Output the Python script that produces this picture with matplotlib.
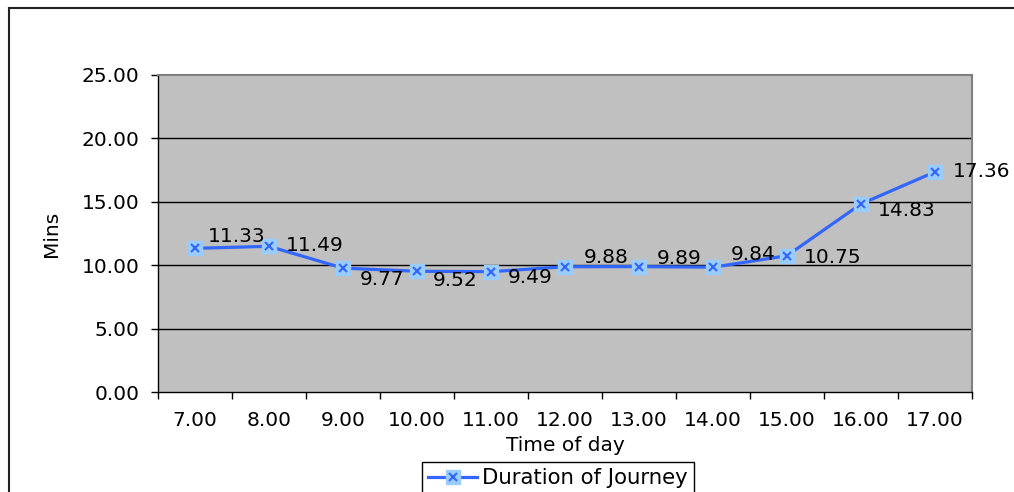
import matplotlib
matplotlib.use("Agg")
import matplotlib.pyplot as plt
from matplotlib.lines import Line2D
import numpy as np

# ---- data ----
times = ['7.00', '8.00', '9.00', '10.00', '11.00', '12.00', '13.00',
         '14.00', '15.00', '16.00', '17.00']
durations = [11.33, 11.49, 9.77, 9.52, 9.49, 9.88, 9.89, 9.84, 10.75, 14.83, 17.36]
y_ticks = [0, 5, 10, 15, 20, 25]
series_name = 'Duration of Journey'
x_title = 'Time of day'
y_title = 'Mins'

# label offsets (pixels, x right / y up) - styling only
label_offsets = [(13, 12), (17, 1), (17, -11), (16, -9), (17, -6), (19, 9),
                 (18, 8), (18, 13), (17, -2), (17, -7), (18, 0)]

plt.rcParams['font.family'] = ['DejaVu Sans']
FS = 14.5
LINE_C = '#3366FF'
MARK_FACE = '#99CCFF'

fig = plt.figure(figsize=(10.14, 4.92), dpi=100)
fig.patch.set_facecolor('white')
ax = fig.add_axes([158/1014, 1-392/492, (972-158)/1014, (392-75)/492])
ax.set_facecolor('#C0C0C0')

x = np.arange(len(times))
ax.set_xlim(-0.5, len(times) - 0.5)
ax.set_ylim(0, 25)

for yv in y_ticks[1:-1]:
    ax.axhline(yv, color='#000000', lw=1.0, zorder=1)

sq, = ax.plot(x, durations, linestyle='none', marker='s', markersize=9.5,
              markerfacecolor=MARK_FACE, markeredgecolor=MARK_FACE, zorder=3)
ln, = ax.plot(x, durations, color=LINE_C, lw=2.3, zorder=2)
xm, = ax.plot(x, durations, linestyle='none', marker='x', markersize=6,
              markeredgecolor=LINE_C, mew=1.5, zorder=4)

for xi, v, (dx, dy) in zip(x, durations, label_offsets):
    ax.annotate(f'{v:.2f}', (xi, v), xytext=(dx, dy), textcoords='offset pixels',
                ha='left', va='center', fontsize=FS, color='black',
                annotation_clip=False, zorder=5)

# spines
for s in ['top', 'right']:
    ax.spines[s].set_color('#808080')
    ax.spines[s].set_linewidth(1.5)
for s in ['left', 'bottom']:
    ax.spines[s].set_color('black')
    ax.spines[s].set_linewidth(1.0)

ax.set_yticks(y_ticks)
ax.set_yticklabels([f'{v:.2f}' for v in y_ticks], fontsize=FS)
ax.tick_params(axis='y', direction='out', length=5, width=1, pad=8.5)

ax.set_xticks(x)
ax.set_xticklabels(times, fontsize=FS)
ax.set_xticks(np.arange(-0.5, len(times)), minor=True)
ax.tick_params(axis='x', which='major', length=0, pad=14)
ax.tick_params(axis='x', which='minor', direction='out', length=5, width=1)

ax.set_xlabel(x_title, fontsize=FS, labelpad=4)
ax.set_ylabel(y_title, fontsize=FS, labelpad=15)

leg = ax.legend([(ln, sq, xm)], [series_name], loc='upper left',
                bbox_to_anchor=(422/1014, 1-462/492), bbox_transform=fig.transFigure,
                fontsize=15.3, frameon=True, fancybox=False, framealpha=1,
                edgecolor='black', handlelength=2.3, handletextpad=0.2,
                borderpad=0.3, borderaxespad=0)
leg.get_frame().set_linewidth(1.0)

# outer chart border
fig.add_artist(Line2D([9/1014, 9/1014], [0, 1-8/492], transform=fig.transFigure,
                      color='#222222', lw=1.5))
fig.add_artist(Line2D([9/1014, 1], [1-8/492, 1-8/492], transform=fig.transFigure,
                      color='#222222', lw=1.5))

fig.savefig('out.png', dpi=100, facecolor='white')
